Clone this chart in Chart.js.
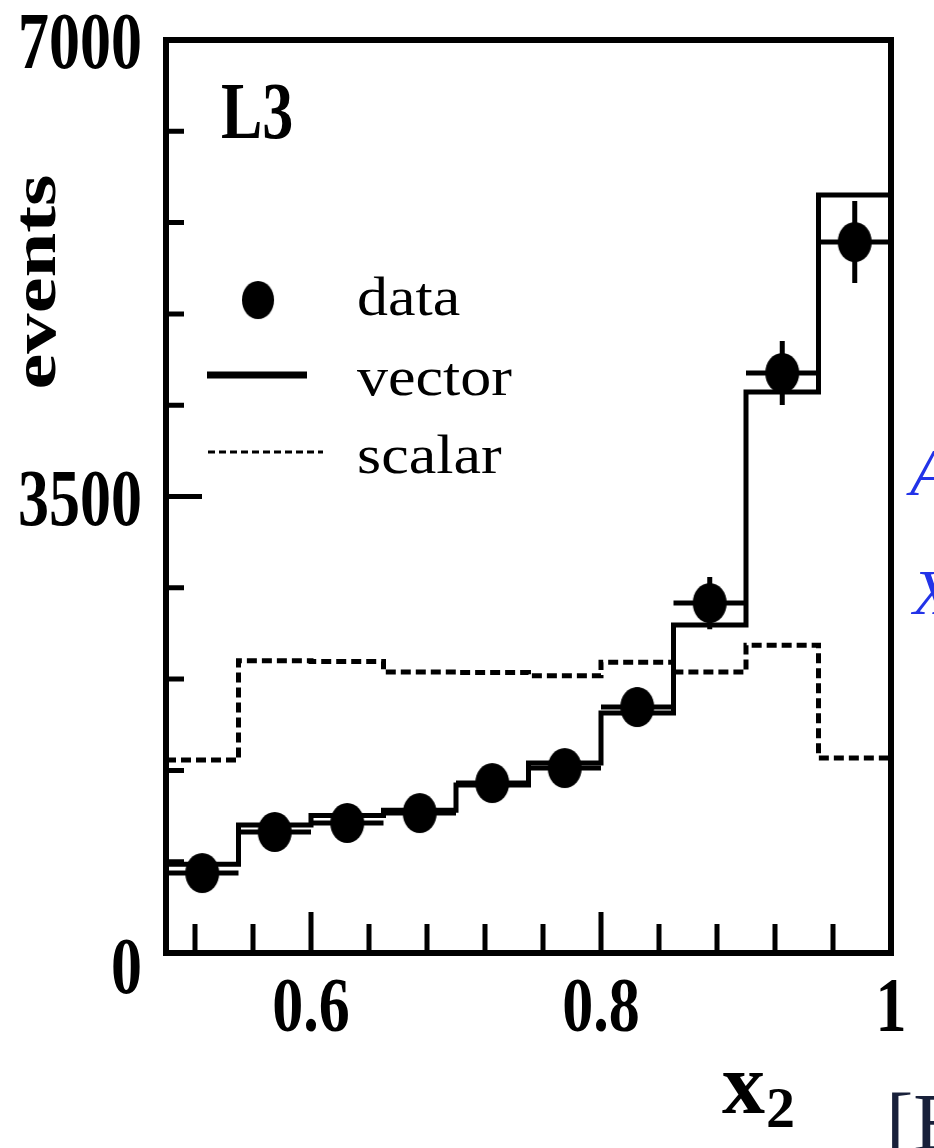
<!DOCTYPE html>
<html>
<head>
<meta charset="utf-8">
<script src="https://cdn.jsdelivr.net/npm/chart.js@4.4.1/dist/chart.umd.min.js"></script>
<style>
  html, body { margin: 0; padding: 0; background: #fff; }
  #wrap { position: relative; width: 934px; height: 1148px; }
</style>
</head>
<body>
<div id="wrap"><canvas id="chart"></canvas></div>
<script>
// histogram bin edges in x2
const binEdges = [0.5, 0.55, 0.6, 0.65, 0.7, 0.75, 0.8, 0.85, 0.9, 0.95, 1.0];
const binCenters = [0.525, 0.575, 0.625, 0.675, 0.725, 0.775, 0.825, 0.875, 0.925, 0.975];

const dataEvents = [613, 928, 997, 1073, 1303, 1418, 1886, 2683, 4447, 5451];
const dataErrors = [80, 90, 95, 100, 110, 115, 150, 200, 245, 315];
const vectorEvents = [680, 981, 1055, 1094, 1288, 1457, 1840, 2515, 4301, 5811];
const scalarEvents = [1480, 2240, 2235, 2155, 2150, 2125, 2230, 2155, 2360, 1495];

const xTicks = [0.52, 0.56, 0.6, 0.64, 0.68, 0.72, 0.76, 0.8, 0.84, 0.88, 0.92, 0.96];
const xMajorTicks = [0.6, 0.8];
const xTickLabels = ['0.6', '0.8', '1'];
const xLabelValues = [0.6, 0.8, 1.0];

const yTicks = [700, 1400, 2100, 2800, 3500, 4200, 4900, 5600, 6300];
const yMajorTicks = [3500];
const yTickLabels = ['0', '3500', '7000'];
const yLabelValues = [0, 3500, 7000];

const seriesLabels = ['data', 'vector', 'scalar'];

const BOLD = 'bold 62px "Liberation Serif", "DejaVu Serif", serif';
const REG = '62px "Liberation Serif", "DejaVu Serif", serif';

// slightly tall dots, as in the scan
const dot = document.createElement('canvas');
dot.width = 36;
dot.height = 42;
{
  const c = dot.getContext('2d');
  c.fillStyle = '#000';
  c.beginPath();
  c.ellipse(18, 21, 17, 20, 0, 0, Math.PI * 2);
  c.fill();
}

function stepData(values) {
  const pts = values.map((v, i) => ({ x: binEdges[i], y: v }));
  pts.push({ x: binEdges[binEdges.length - 1], y: values[values.length - 1] });
  return pts;
}

function text(ctx, str, x, y, font, align, sy) {
  ctx.save();
  ctx.translate(x, y);
  ctx.scale(1, sy || 1);
  ctx.font = font;
  ctx.textAlign = align || 'left';
  ctx.textBaseline = 'alphabetic';
  ctx.fillText(str, 0, 0);
  ctx.restore();
}

const errorBars = {
  id: 'errorBars',
  beforeDatasetsDraw(chart) {
    const { ctx, scales: { x, y } } = chart;
    ctx.save();
    ctx.strokeStyle = '#000';
    ctx.lineWidth = 5;
    binCenters.forEach((c, i) => {
      const px = x.getPixelForValue(c);
      const py = y.getPixelForValue(dataEvents[i]);
      ctx.beginPath();
      ctx.moveTo(px, y.getPixelForValue(dataEvents[i] - dataErrors[i]));
      ctx.lineTo(px, y.getPixelForValue(dataEvents[i] + dataErrors[i]));
      ctx.moveTo(x.getPixelForValue(binEdges[i]), py);
      ctx.lineTo(x.getPixelForValue(binEdges[i + 1]), py);
      ctx.stroke();
    });
    ctx.restore();
  }
};

const frame = {
  id: 'frame',
  afterDraw(chart) {
    const { ctx, chartArea: a, scales: { x, y } } = chart;
    ctx.save();
    ctx.strokeStyle = '#000';
    ctx.fillStyle = '#000';
    ctx.lineWidth = 6;
    ctx.strokeRect(a.left, a.top, a.right - a.left, a.bottom - a.top);

    // inward ticks
    ctx.lineWidth = 5;
    ctx.beginPath();
    xTicks.forEach(t => {
      const px = x.getPixelForValue(t);
      const len = xMajorTicks.includes(t) ? 41 : 29;
      ctx.moveTo(px, a.bottom);
      ctx.lineTo(px, a.bottom - len);
    });
    yTicks.forEach(t => {
      const py = y.getPixelForValue(t);
      const len = yMajorTicks.includes(t) ? 36 : 18;
      ctx.moveTo(a.left, py);
      ctx.lineTo(a.left + len, py);
    });
    ctx.stroke();

    // tick labels
    xTickLabels.forEach((s, i) => {
      text(ctx, s, x.getPixelForValue(xLabelValues[i]), a.bottom + 78, BOLD, 'center', 1.27);
    });
    yTickLabels.forEach((s, i) => {
      const py = y.getPixelForValue(yLabelValues[i]) + (yLabelValues[i] === 0 ? 40 : 28);
      text(ctx, s, a.left - 24, py, BOLD, 'right', 1.3);
    });

    // axis titles
    ctx.save();
    ctx.translate(55, 282);
    ctx.rotate(-Math.PI / 2);
    ctx.scale(1.3, 1);
    ctx.font = BOLD;
    ctx.textAlign = 'center';
    ctx.fillText('events', 0, 0);
    ctx.restore();
    text(ctx, 'x', 722, 1113, 'bold 86px "Liberation Serif", serif', 'left', 1.0);
    text(ctx, '2', 766, 1127, 'bold 58px "Liberation Serif", serif', 'left', 1.0);

    text(ctx, 'L3', 221, 138, BOLD, 'left', 1.3);

    // legend
    ctx.drawImage(dot, 258 - 17, 300 - 20, 34, 40);
    ctx.lineWidth = 7;
    ctx.beginPath();
    ctx.moveTo(207, 375);
    ctx.lineTo(307, 375);
    ctx.stroke();
    ctx.lineWidth = 3;
    ctx.setLineDash([7, 4]);
    ctx.beginPath();
    ctx.moveTo(208, 452);
    ctx.lineTo(323, 452);
    ctx.stroke();
    ctx.setLineDash([]);
    text(ctx, seriesLabels[0], 357, 315, REG, 'left', 0.9);
    text(ctx, seriesLabels[1], 357, 395, REG, 'left', 0.9);
    text(ctx, seriesLabels[2], 357, 473, REG, 'left', 0.9);

    // fragments of neighbouring text at the crop edge
    ctx.fillStyle = '#2233e8';
    text(ctx, 'A', 910, 495, 'italic 68px "Liberation Serif", serif', 'left', 1.0);
    text(ctx, 'X', 913, 614, 'italic 64px "Liberation Serif", serif', 'left', 1.0);
    ctx.fillStyle = '#18203a';
    text(ctx, '[E', 886, 1150, '82px "Liberation Serif", serif', 'left', 1.0);
    ctx.restore();
  }
};

new Chart(document.getElementById('chart'), {
  type: 'line',
  data: {
    datasets: [
      {
        label: seriesLabels[1],
        data: stepData(vectorEvents),
        stepped: 'before',
        borderColor: '#000',
        borderWidth: 5,
        pointRadius: 0,
        fill: false
      },
      {
        label: seriesLabels[2],
        data: stepData(scalarEvents),
        stepped: 'before',
        borderColor: '#000',
        borderWidth: 5,
        borderDash: [10, 5],
        pointRadius: 0,
        fill: false
      },
      {
        label: seriesLabels[0],
        data: binCenters.map((c, i) => ({ x: c, y: dataEvents[i] })),
        showLine: false,
        pointStyle: dot,
        pointRadius: 18,
        borderWidth: 0
      }
    ]
  },
  options: {
    responsive: true,
    maintainAspectRatio: false,
    animation: false,
    layout: { padding: { left: 166, right: 43, top: 40, bottom: 195 } },
    scales: {
      x: { type: 'linear', min: 0.5, max: 1.0, display: false },
      y: { type: 'linear', min: 0, max: 7000, display: false }
    },
    plugins: {
      legend: { display: false },
      tooltip: { enabled: false }
    }
  },
  plugins: [errorBars, frame]
});
</script>
</body>
</html>
